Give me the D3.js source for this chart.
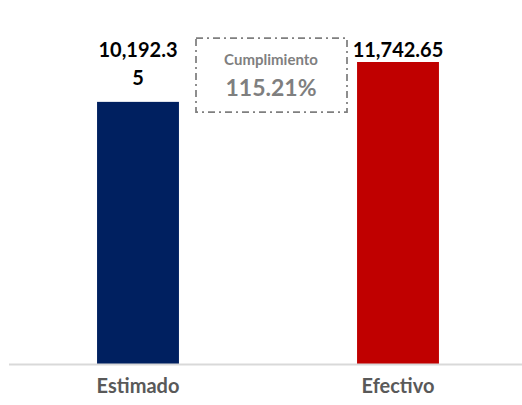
<!DOCTYPE html>
<html>
<head>
<meta charset="utf-8">
<script src="https://cdn.jsdelivr.net/npm/d3@7"></script>
<style>
  body { margin: 0; background: #fff; }
  svg { display: block; font-family: Lato, "Open Sans", sans-serif; }
</style>
</head>
<body>
<div id="chart"></div>
<script>
const categories = ["Estimado", "Efectivo"];
const values = [10192.35, 11742.65];
const barColors = ["#002060", "#C00000"];
// where the data label wraps onto a second line (0 = no wrap)
const labelBreak = [8, 0];

const width = 522, height = 405;
const baseline = 364;

const svg = d3.select("#chart").append("svg")
  .attr("width", width)
  .attr("height", height);

const x = d3.scaleBand()
  .domain(categories)
  .range([8, 528])
  .paddingInner(0.685)
  .paddingOuter(0.3425);

const y = d3.scaleLinear()
  .domain([0, 11742.65])
  .range([baseline, 62]);

const fmt = d3.format(",.2f");

// bars
svg.selectAll("rect.bar")
  .data(values)
  .enter()
  .append("rect")
  .attr("class", "bar")
  .attr("x", (d, i) => x(categories[i]))
  .attr("y", d => y(d))
  .attr("width", x.bandwidth())
  .attr("height", d => baseline - y(d))
  .attr("fill", (d, i) => barColors[i]);

// axis line
svg.append("line")
  .attr("x1", 9).attr("x2", 522)
  .attr("y1", baseline + 0.5).attr("y2", baseline + 0.5)
  .attr("stroke", "#d9d9d9")
  .attr("stroke-width", 2);

// category labels
svg.selectAll("text.cat")
  .data(categories)
  .enter()
  .append("text")
  .attr("class", "cat")
  .attr("x", d => x(d) + x.bandwidth() / 2)
  .attr("y", 393)
  .attr("text-anchor", "middle")
  .attr("font-size", 20)
  .attr("font-weight", "bold")
  .attr("fill", "#595959")
  .text(d => d);

// value labels
values.forEach((v, i) => {
  const s = fmt(v);
  const lines = labelBreak[i] ? [s.slice(0, labelBreak[i]), s.slice(labelBreak[i])] : [s];
  const t = svg.append("text")
    .attr("text-anchor", "middle")
    .attr("font-size", 20)
    .attr("font-weight", "bold")
    .attr("fill", "#000");
  const cx = x(categories[i]) + x.bandwidth() / 2;
  const top = lines.length > 1 ? 57 : y(v) - 5;
  lines.forEach((l, j) => {
    t.append("tspan")
      .attr("x", cx)
      .attr("y", top + j * 28)
      .text(l);
  });
});

// cumplimiento box
const pct = values[1] / values[0];
svg.append("rect")
  .attr("x", 196).attr("y", 38)
  .attr("width", 151).attr("height", 74)
  .attr("fill", "none")
  .attr("stroke", "#7f7f7f")
  .attr("stroke-width", 1.75)
  .attr("stroke-dasharray", "7,4,2,4");

svg.append("text")
  .attr("x", 271).attr("y", 65)
  .attr("text-anchor", "middle")
  .attr("font-size", 15)
  .attr("font-weight", "bold")
  .attr("fill", "#7f7f7f")
  .text("Cumplimiento");

svg.append("text")
  .attr("x", 271).attr("y", 96)
  .attr("text-anchor", "middle")
  .attr("font-size", 23)
  .attr("font-weight", "bold")
  .attr("fill", "#7f7f7f")
  .text(d3.format(".2%")(pct));
</script>
</body>
</html>
